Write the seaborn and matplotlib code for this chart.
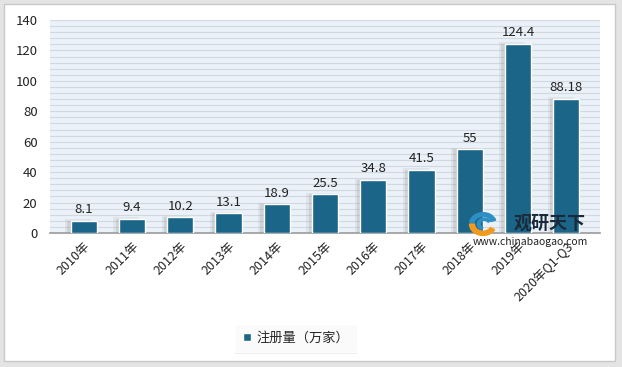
import matplotlib
matplotlib.use("Agg")
import matplotlib.pyplot as plt
import matplotlib.patheffects as pe
from matplotlib.patches import Rectangle, Wedge, Patch
import seaborn as sns
import pandas as pd

# données du graphique
years = ["2010年", "2011年", "2012年", "2013年", "2014年", "2015年",
         "2016年", "2017年", "2018年", "2019年", "2020年Q1-Q3"]
values = [8.1, 9.4, 10.2, 13.1, 18.9, 25.5, 34.8, 41.5, 55, 124.4, 88.18]
value_labels = ["8.1", "9.4", "10.2", "13.1", "18.9", "25.5",
                "34.8", "41.5", "55", "124.4", "88.18"]
series_name = "注册量（万家）"

bar_color = "#1b6688"

sns.set_style("white")
plt.rcParams['font.family'] = ['Noto Sans CJK SC', 'DejaVu Sans']

df = pd.DataFrame({"year": years, "value": values})

fig = plt.figure(figsize=(6.22, 3.67), dpi=100)
fig.patch.set_facecolor("#e4e4e4")

# carte blanche avec bordure
card = Rectangle((4 / 622, 1 - 361 / 367), 611 / 622, 357 / 367,
                 transform=fig.transFigure, facecolor="white",
                 edgecolor="#c8c8c8", linewidth=1, zorder=-10)
fig.patches.append(card)

ax = fig.add_axes([50 / 622, 1 - 233 / 367, 550 / 622, 213 / 367])
ax.set_facecolor("#eaf1f8")

sns.barplot(data=df, x="year", y="value", color=bar_color, width=0.54,
            saturation=1, edgecolor="white", linewidth=1, ax=ax, zorder=3)

# ombre douce à gauche des barres
for patch in ax.patches:
    patch.set_path_effects([
        pe.SimplePatchShadow(offset=(-4, 1), shadow_rgbFace="#9a9a9a", alpha=0.15),
        pe.SimplePatchShadow(offset=(-2.5, 0), shadow_rgbFace="#8a8a8a", alpha=0.2),
        pe.Normal(),
    ])

# étiquettes de valeurs
for i, (v, lab) in enumerate(zip(values, value_labels)):
    ax.text(i, v + 3, lab, ha="center", va="bottom", fontsize=9.5, color="#222222")

ax.set_ylim(0, 140)
ax.set_xlim(-0.7, len(years) - 0.3)
ax.set_yticks(range(0, 141, 20))
ax.set_yticks(range(0, 141, 4), minor=True)
ax.grid(axis="y", which="both", color="#d2d8e0", linewidth=0.8, zorder=0)
ax.set_axisbelow(True)
ax.tick_params(axis="y", which="both", length=0, labelsize=9.5, labelcolor="#222222", pad=9)
ax.tick_params(axis="x", length=0, labelsize=9, labelcolor="#222222", pad=5)
plt.setp(ax.get_xticklabels(), rotation=45, ha="right", rotation_mode="anchor")
ax.set_xlabel("")
ax.set_ylabel("")
for side in ["top", "right", "left"]:
    ax.spines[side].set_visible(False)
ax.spines["bottom"].set_color("#9a9a9a")
ax.spines["bottom"].set_linewidth(1.2)

# légende en bas
handle = Patch(facecolor=bar_color, edgecolor="white")
leg = fig.legend([handle], [series_name], loc="center",
                 bbox_to_anchor=(296 / 622, 1 - 338 / 367), fontsize=9.5,
                 handlelength=0.6, handleheight=0.6, handletextpad=0.4,
                 frameon=True, fancybox=False, shadow=False, borderpad=0.6)
leg.get_frame().set_edgecolor("white")
leg.get_frame().set_path_effects([pe.SimplePatchShadow(offset=(0, -1), alpha=0.12), pe.Normal()])

# filigrane
fig.text(550 / 622, 1 - 223 / 367, "观研天下", ha="center", va="center",
         fontsize=13, fontweight="bold", color="#1a2a3a", zorder=5)
fig.text(530 / 622, 1 - 242 / 367, "www.chinabaogao.com", ha="center", va="center",
         fontsize=7.5, color="#222222", zorder=5)
logo_ax = fig.add_axes([466 / 622, 1 - 236 / 367, 34 / 622, 24 / 367])
logo_ax.set_xlim(-1.2, 1.2)
logo_ax.set_ylim(-1, 1)
logo_ax.axis("off")
logo_ax.add_patch(Wedge((0, 0), 0.95, 180, 330, width=0.35, color="#f39a1e"))
logo_ax.add_patch(Wedge((0, 0), 0.95, 20, 170, width=0.3, color="#2d8fc4"))
logo_ax.add_patch(Wedge((0.1, 0), 0.5, 30, 250, width=0.2, color="#2d8fc4"))

fig.savefig("out.png", dpi=100, facecolor=fig.get_facecolor())
